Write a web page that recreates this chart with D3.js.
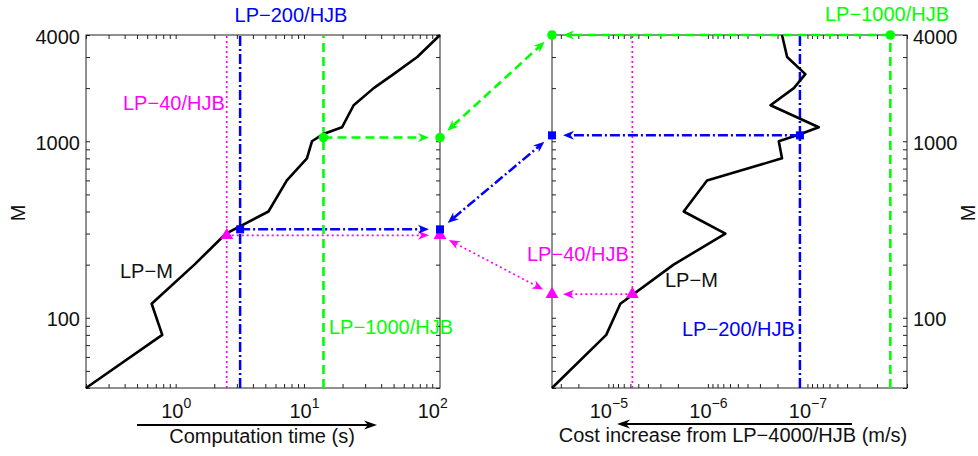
<!DOCTYPE html>
<html>
<head>
<meta charset="utf-8">
<script src="https://cdn.jsdelivr.net/npm/d3@7"></script>
<style>
body { margin: 0; background: #fff; }
svg text { font-family: 'Liberation Sans', Arial, Helvetica, sans-serif; font-size: 20px; fill: #111; }
.frame { fill: none; stroke: #222; stroke-width: 1; }
.minor .domain, .labels .domain { display: none; }
</style>
</head>
<body>
<svg width="978" height="456"></svg>
<script>
// LP-M curve: number of nodes M, its computation time (s) and cost increase (m/s)
const mValues = [40, 80, 120, 200, 300, 400, 600, 800, 1000, 1100, 1200, 1600, 2000, 2400, 3000, 4000];
const timeValues = [0.2, 0.786, 0.65, 1.40, 2.47, 5.29, 7.36, 10.55, 11.55, 14.2, 19.8, 24.4, 35.0, 50, 76.4, 115];
const costValues = [3.68e-5, 1.05e-5, 7.57e-6, 2.21e-6, 6.67e-7, 1.75e-6, 1.02e-6, 1.8e-7, 1.94e-7, 1.17e-7,
  7.7e-8, 2.35e-7, 1.37e-7, 1.05e-7, 1.6e-7, 1.8e-7];

// LP-N/HJB reference methods
const refNames = ['LP−40/HJB', 'LP−200/HJB', 'LP−1000/HJB'];
const refTime = [2.5, 3.18, 14.2];
const refCost = [5.74e-6, 1.19e-7, 1.47e-8];
const refTimeM = [293, 317, 1050];   // M of LP-M with the same computation time
const refCostM = [136, 1080, 4000];  // M of LP-M with the same cost increase

// tick labels
const mTicks = [100, 1000, 4000];
const timeTicks = [1, 10, 100];
const costTicks = [1e-5, 1e-6, 1e-7];

const svg = d3.select('svg');

const styles = {
  'LP−40/HJB': { color: '#ff00ff', dash: '2,3', width: 1.7, marker: d3.symbolTriangle, size: 72 },
  'LP−200/HJB': { color: '#0000ff', dash: '10,3,2,3', width: 2.5, marker: d3.symbolSquare, size: 64 },
  'LP−1000/HJB': { color: '#00ff00', dash: '9,5', width: 2.6, marker: d3.symbolCircle, size: 72 },
};

const yScale = d3.scaleLog().domain([40, 4000]).range([388, 35]);
const xTime = d3.scaleLog().domain([0.2, 115]).range([86, 440]);
const xCost = d3.scaleLog().domain([3.68e-5, 1e-8]).range([552, 907]);

const expLabel = d => {
  const e = Math.round(Math.log10(d));
  return (e < 0 ? '−' : '') + Math.abs(e);
};

const drawFrame = (x, y, side) => {
  const g = svg.append('g').attr('color', '#222');
  const [x0, x1] = x.range();
  const [yb, yt] = y.range();
  const xt = x.ticks(), yt2 = y.ticks();
  g.append('g').attr('class', 'minor').attr('transform', `translate(0,${yb})`)
    .call(d3.axisBottom(x).tickValues(xt).tickSize(-4).tickFormat(''));
  g.append('g').attr('class', 'minor').attr('transform', `translate(0,${yt})`)
    .call(d3.axisTop(x).tickValues(xt).tickSize(-4).tickFormat(''));
  g.append('g').attr('class', 'minor').attr('transform', `translate(${x0},0)`)
    .call(d3.axisLeft(y).tickValues(yt2).tickSize(-4).tickFormat(''));
  g.append('g').attr('class', 'minor').attr('transform', `translate(${x1},0)`)
    .call(d3.axisRight(y).tickValues(yt2).tickSize(-4).tickFormat(''));
  g.append('rect').attr('class', 'frame')
    .attr('x', x0).attr('y', yt).attr('width', x1 - x0).attr('height', yb - yt);

  // major labels
  const yAxis = side === 'left'
    ? d3.axisLeft(y).tickValues(mTicks).tickSize(0).tickPadding(6).tickFormat(d3.format('d'))
    : d3.axisRight(y).tickValues(mTicks).tickSize(0).tickPadding(6).tickFormat(d3.format('d'));
  const ya = svg.append('g').attr('class', 'labels')
    .attr('transform', `translate(${side === 'left' ? x0 : x1},0)`).call(yAxis);
  ya.selectAll('text').attr('font-size', null).attr('font-family', null).attr('fill', '#111').attr('dy', '0.4em');

  const xa = svg.append('g').attr('class', 'labels').attr('transform', `translate(0,${yb})`)
    .call(d3.axisBottom(x).tickValues(side === 'left' ? timeTicks : costTicks).tickSize(0).tickFormat(''));
  xa.selectAll('text').attr('y', 30).attr('dy', null).attr('fill', '#111').attr('font-size', null).attr('font-family', null)
    .each(function (d) {
      const t = d3.select(this);
      t.append('tspan').text('10');
      t.append('tspan').attr('dy', -10).style('font-size', '14px').text(expLabel(d));
    });
};

drawFrame(xTime, yScale, 'left');
drawFrame(xCost, yScale, 'right');

const arrowHead = (g, tip, ang, color, L = 11, W = 9) => {
  g.append('path')
    .attr('d', `M0,0L${-L},${-W / 2}L${-0.7 * L},0L${-L},${W / 2}Z`)
    .attr('transform', `translate(${tip[0]},${tip[1]}) rotate(${ang * 180 / Math.PI})`)
    .attr('fill', color);
};

// line from p0 to p1, optional gaps and heads at both ends
const arrowLine = (g, p0, p1, st, opt) => {
  const dx = p1[0] - p0[0], dy = p1[1] - p0[1];
  const len = Math.hypot(dx, dy), ux = dx / len, uy = dy / len;
  const ang = Math.atan2(dy, dx);
  const a = [p0[0] + ux * opt.startGap, p0[1] + uy * opt.startGap];
  const b = [p1[0] - ux * opt.endGap, p1[1] - uy * opt.endGap];
  const L = opt.L || 11;
  const a2 = opt.headStart ? [a[0] + ux * 0.7 * L, a[1] + uy * 0.7 * L] : a;
  const b2 = opt.headEnd ? [b[0] - ux * 0.7 * L, b[1] - uy * 0.7 * L] : b;
  g.append('line').attr('x1', a2[0]).attr('y1', a2[1]).attr('x2', b2[0]).attr('y2', b2[1])
    .attr('stroke', st.color).attr('stroke-width', st.width).attr('stroke-dasharray', st.dash || null);
  if (opt.headEnd) arrowHead(g, b, ang, st.color, L, opt.W);
  if (opt.headStart) arrowHead(g, a, ang + Math.PI, st.color, L, opt.W);
};

// vertical reference lines
const refG = svg.append('g');
refNames.forEach((name, i) => {
  const st = styles[name];
  [[xTime, refTime[i]], [xCost, refCost[i]]].forEach(([x, v]) => {
    refG.append('line')
      .attr('x1', x(v)).attr('x2', x(v)).attr('y1', yScale.range()[0]).attr('y2', yScale.range()[1])
      .attr('stroke', st.color).attr('stroke-width', st.width).attr('stroke-dasharray', st.dash);
  });
});

// LP-M curves
const curve = d3.line().curve(d3.curveLinear);
svg.append('path')
  .attr('d', curve(mValues.map((m, i) => [xTime(timeValues[i]), yScale(m)])))
  .attr('fill', 'none').attr('stroke', '#000').attr('stroke-width', 2.6).attr('stroke-linejoin', 'round');
svg.append('path')
  .attr('d', curve(mValues.map((m, i) => [xCost(costValues[i]), yScale(m)])))
  .attr('fill', 'none').attr('stroke', '#000').attr('stroke-width', 2.6).attr('stroke-linejoin', 'round');

// arrows and markers
const arrG = svg.append('g');
const markG = svg.append('g');
refNames.forEach((name, i) => {
  const st = styles[name];
  const pTime = [xTime(refTime[i]), yScale(refTimeM[i])];
  const pTimeEdge = [xTime.range()[1], yScale(refTimeM[i])];
  const pCostEdge = [xCost.range()[0], yScale(refCostM[i])];
  const pCost = [xCost(refCost[i]), yScale(refCostM[i])];
  arrowLine(arrG, pTime, pTimeEdge, st, { startGap: 0, endGap: 11, headEnd: true });
  arrowLine(arrG, pTimeEdge, pCostEdge, st, { startGap: 10, endGap: 10, headEnd: true, headStart: true });
  arrowLine(arrG, pCost, pCostEdge, st, { startGap: 0, endGap: 11, headEnd: true });
  [pTime, pTimeEdge, pCostEdge, pCost].forEach(p => {
    markG.append('path').attr('d', d3.symbol(st.marker, st.size)())
      .attr('transform', `translate(${p[0]},${p[1]})`).attr('fill', st.color);
  });
});

// annotations
const labels = svg.append('g');
const addText = (x, y, txt, color, anchor = 'start') =>
  labels.append('text').attr('x', x).attr('y', y).attr('text-anchor', anchor).style('fill', color).text(txt);

addText(291, 22, 'LP−200/HJB', styles['LP−200/HJB'].color, 'middle');
addText(123, 110, 'LP−40/HJB', styles['LP−40/HJB'].color);
addText(120, 278, 'LP−M', '#111');
addText(329, 334, 'LP−1000/HJB', styles['LP−1000/HJB'].color);
addText(825, 21, 'LP−1000/HJB', styles['LP−1000/HJB'].color);
addText(527, 261, 'LP−40/HJB', styles['LP−40/HJB'].color);
addText(665, 287, 'LP−M', '#111');
addText(682, 336, 'LP−200/HJB', styles['LP−200/HJB'].color);

// axis titles
addText(262, 443, 'Computation time (s)', '#111', 'middle');
addText(733, 442, 'Cost increase from LP−4000/HJB (m/s)', '#111', 'middle');
[18, 968].forEach(x => {
  labels.append('text').attr('transform', `translate(${x},213) rotate(-90)`)
    .attr('text-anchor', 'middle').attr('dy', '0.35em').text('M');
});

const axisArrowStyle = { color: '#000', width: 2 };
arrowLine(labels, [137, 425], [377, 425], axisArrowStyle, { startGap: 0, endGap: 0, headEnd: true, L: 13, W: 9 });
arrowLine(labels, [852, 424], [617, 424], axisArrowStyle, { startGap: 0, endGap: 0, headEnd: true, L: 13, W: 9 });
</script>
</body>
</html>
